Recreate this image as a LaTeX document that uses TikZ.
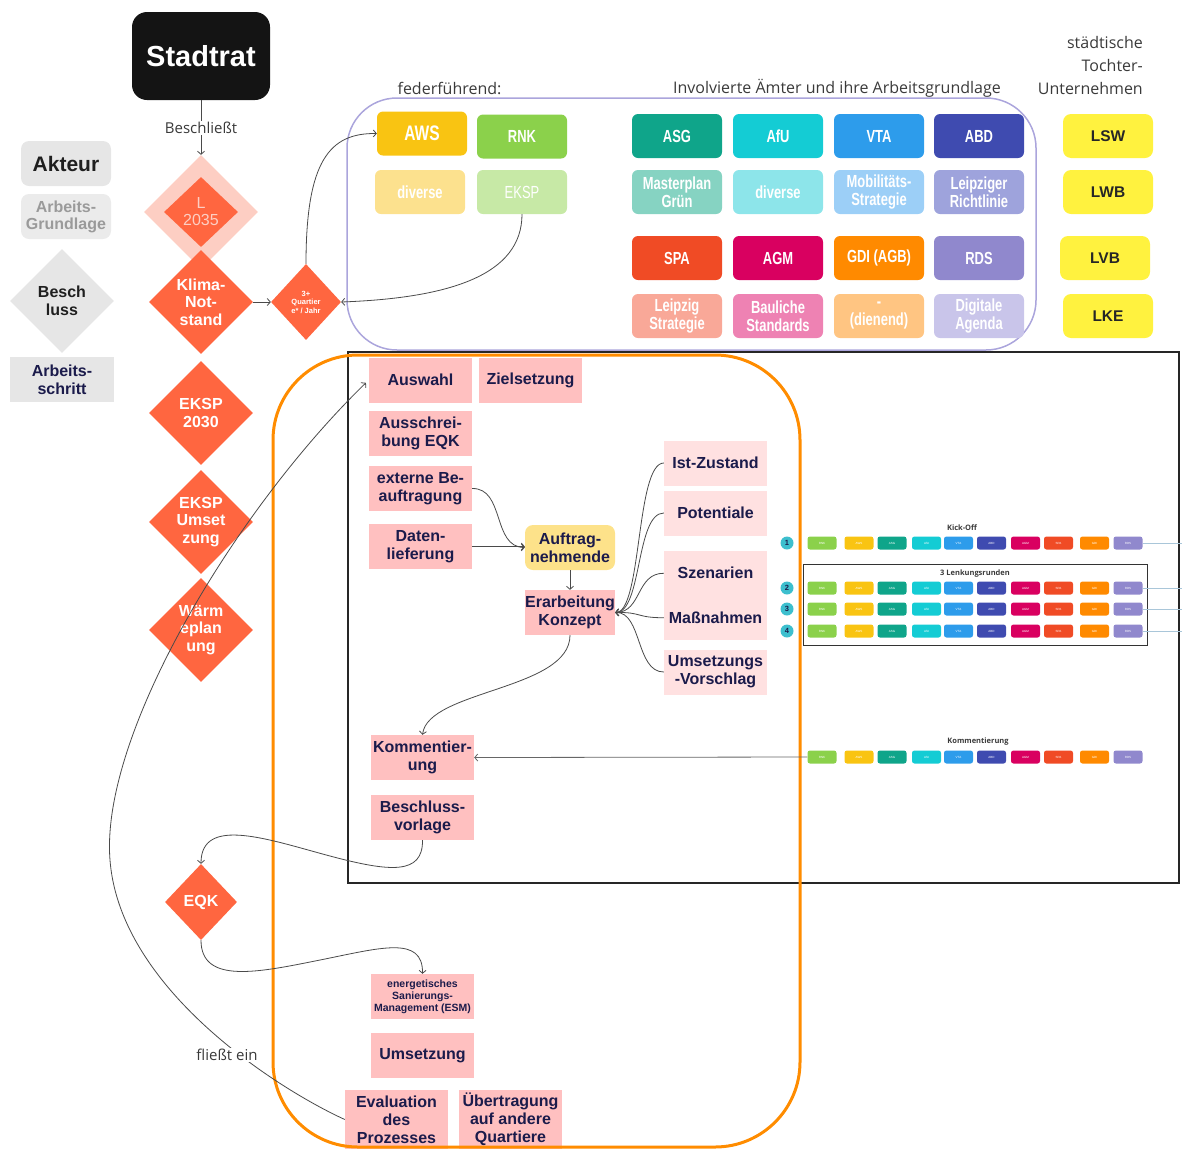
\documentclass[tikz,border=0pt]{standalone}
\usepackage{fontspec}
\setmainfont{Liberation Sans}
\newfontfamily\uifont{Open Sans}
\newfontfamily\narrowfont[FakeStretch=0.74]{Liberation Sans}
\usetikzlibrary{shapes.geometric,arrows.meta}

\definecolor{navy}{HTML}{1B1B4B}
\definecolor{pinkA}{HTML}{FFC0C0}
\definecolor{pinkB}{HTML}{FFE1E1}
\definecolor{orangeD}{HTML}{FF6640}
\definecolor{pinkD}{HTML}{FDCEC3}
\definecolor{lineC}{HTML}{4A4A4A}
\definecolor{lavC}{HTML}{ABA5DC}
\definecolor{frameO}{HTML}{FF8C00}
\definecolor{tochter}{HTML}{FFF23F}
\definecolor{greyA}{HTML}{E6E6E6}
\definecolor{greyB}{HTML}{EBEBEB}
\definecolor{greyT}{HTML}{9A9A9A}
\definecolor{uitext}{HTML}{3A3A3A}
\definecolor{auftragC}{HTML}{FDE28A}
\definecolor{rowline}{HTML}{A9C6D9}
\definecolor{numC}{HTML}{3DBFCE}
% office colours
\definecolor{cGreen}{HTML}{8BD14B}
\definecolor{cYellow}{HTML}{F9C412}
\definecolor{cTeal}{HTML}{0FA58A}
\definecolor{cCyan}{HTML}{14CCD4}
\definecolor{cBlue}{HTML}{2D9CEB}
\definecolor{cIndigo}{HTML}{3F4BB0}
\definecolor{cMagenta}{HTML}{D90060}
\definecolor{cRed}{HTML}{F04B25}
\definecolor{cOrange}{HTML}{FF8A00}
\definecolor{cLav}{HTML}{9088CD}
% lighter tones for the working bases
\definecolor{lYellow}{HTML}{FCE18E}
\definecolor{lGreen}{HTML}{C7E9A6}
\definecolor{lTeal}{HTML}{86D3C2}
\definecolor{lCyan}{HTML}{8DE5EA}
\definecolor{lBlue}{HTML}{9CCFF7}
\definecolor{lIndigo}{HTML}{9EA3DC}
\definecolor{lRed}{HTML}{F9A898}
\definecolor{lMagenta}{HTML}{EE82B3}
\definecolor{lOrange}{HTML}{FFC582}
\definecolor{lLav}{HTML}{C9C5EA}

\tikzset{
  conn/.style={draw=lineC, line width=0.8pt},
  arr/.style={-{Straight Barb[length=3pt,width=7pt]}},
  pinkbox/.style={rectangle, fill=pinkA, text=navy, inner sep=0pt,
    minimum width=103pt, minimum height=45pt, align=center,
    font=\bfseries\fontsize{16}{18}\selectfont},
  lightbox/.style={pinkbox, fill=pinkB},
  amtbox/.style={rectangle, rounded corners=6pt, inner sep=0pt,
    minimum width=90pt, minimum height=44pt, text=white, align=center,
    font=\narrowfont\bfseries\fontsize{17.5}{18}\selectfont},
  tbox/.style={rectangle, rounded corners=8pt, fill=tochter, inner sep=0pt,
    minimum width=90pt, minimum height=44pt, text=black!85,
    font=\bfseries\fontsize{15.5}{17}\selectfont},
  dia/.style={diamond, fill=orangeD, inner sep=0pt, minimum width=104pt,
    minimum height=104pt, text=white, align=center,
    font=\bfseries\fontsize{16}{17.5}\selectfont},
  minibox/.style={rectangle, rounded corners=2.5pt, inner sep=0pt,
    minimum width=29pt, minimum height=13pt, text=white,
    font=\fontsize{3}{3}\selectfont},
  numc/.style={circle, fill=numC, inner sep=0pt, minimum size=13pt,
    text=navy, font=\bfseries\fontsize{7.5}{7.5}\selectfont},
  uilabel/.style={text=uitext, inner sep=1pt, font=\uifont\fontsize{16}{23}\selectfont},
  tinylabel/.style={text=uitext, inner sep=0pt, font=\uifont\bfseries\fontsize{7.5}{8}\selectfont},
}

\begin{document}
\begin{tikzpicture}[x=1pt, y=-1pt]
\useasboundingbox (0,0) rectangle (1182,1149);

% frames
\draw[draw=lavC, line width=1.5pt, rounded corners=50pt] (347,98) rectangle (1036,350);
\draw[draw=black!85, line width=2pt] (348,352) rectangle (1179,883);

% legend
\node[rectangle, rounded corners=8pt, fill=greyA, minimum width=90pt, minimum height=45pt,
  inner sep=0pt, text=black!88, font=\bfseries\fontsize{21}{22}\selectfont] (akteur) at (66,163.5) {Akteur};
\node[rectangle, rounded corners=8pt, fill=greyB, minimum width=90pt, minimum height=45pt,
  inner sep=0pt, text=greyT, align=center, font=\bfseries\fontsize{16}{17}\selectfont] (grundl) at (66,216.5) {Arbeits-\\Grundlage};
\node[dia, fill=greyA, text=black!88] (leg-dia) at (62,301) {Besch\\luss};
\node[rectangle, fill=greyA, minimum width=104pt, minimum height=45pt, inner sep=0pt,
  text=navy, align=center, font=\bfseries\fontsize{16}{18}\selectfont] (schritt) at (62,379.5) {Arbeits-\\schritt};

% city council and decisions
\node[rectangle, rounded corners=15pt, fill=black!92, minimum width=138pt, minimum height=88pt,
  text=white, font=\bfseries\fontsize{29}{30}\selectfont] (stadtrat) at (201,56) {Stadtrat};
\node[diamond, fill=pinkD, inner sep=0pt, minimum width=114pt, minimum height=114pt] (l2035) at (201,212) {};
\node[diamond, fill=orangeD, inner sep=0pt, minimum width=74pt, minimum height=70pt,
  text=pinkD, align=center, font=\fontsize{16}{17}\selectfont] (l2035i) at (201,212) {L\\2035};
\node[dia] (klima) at (201,302) {Klima-\\Not-\\stand};
\node[dia] (eksp30) at (201,413) {EKSP\\2030};
\node[dia] (ekspu) at (201,522) {EKSP\\Umset\\zung};
\node[dia] (waerme) at (201,630) {Wärm\\eplan\\ung};
\node[dia, minimum width=72pt, minimum height=76pt] (eqk) at (201,902) {EQK};
\node[dia, minimum width=70pt, minimum height=76pt,
  font=\bfseries\fontsize{7.5}{8.5}\selectfont] (q3) at (306,302) {3+\\Quartier\\e* / Jahr};

% headings
\node[uilabel] (hfeder) at (449.5,88) {federführend:};
\node[uilabel] (haemter) at (837,88) {Involvierte Ämter und ihre Arbeitsgrundlage};
\node[uilabel, align=right, anchor=east] (htochter) at (1144,65) {städtische\\Tochter-\\Unternehmen};

% lead offices
\node[amtbox, fill=cYellow, font=\narrowfont\bfseries\fontsize{21}{22}\selectfont] (aws) at (422,133.5) {AWS};
\node[amtbox, fill=cGreen] (rnk) at (522,136.5) {RNK};
\node[amtbox, fill=lYellow] (div1) at (420,192) {diverse};
\node[amtbox, fill=lGreen, font=\narrowfont\fontsize{17.5}{18}\selectfont] (eksp) at (522,192) {EKSP};

% involved offices
\node[amtbox, fill=cTeal] (asg) at (677,136) {ASG};
\node[amtbox, fill=cCyan] (afu) at (778,136) {AfU};
\node[amtbox, fill=cBlue] (vta) at (879,136) {VTA};
\node[amtbox, fill=cIndigo] (abd) at (979,136) {ABD};
\node[amtbox, fill=lTeal] (mpg) at (677,192) {Masterplan\\Grün};
\node[amtbox, fill=lCyan] (div2) at (778,192) {diverse};
\node[amtbox, fill=lBlue] (mob) at (879,192) {Mobilitäts-\\Strategie};
\node[amtbox, fill=lIndigo] (lrl) at (979,192) {Leipziger\\Richtlinie};
\node[amtbox, fill=cRed] (spa) at (677,258) {SPA};
\node[amtbox, fill=cMagenta] (agm) at (778,258) {AGM};
\node[amtbox, fill=cOrange] (gdi) at (879,258) {GDI (AGB)};
\node[amtbox, fill=cLav] (rds) at (979,258) {RDS};
\node[amtbox, fill=lRed] (lst) at (677,316) {Leipzig\\Strategie};
\node[amtbox, fill=lMagenta] (bst) at (778,316) {Bauliche\\Standards};
\node[amtbox, fill=lOrange] (dien) at (879,316) {-\\(dienend)};
\node[amtbox, fill=lLav] (dag) at (979,316) {Digitale\\Agenda};

% municipal companies
\node[tbox] (lsw) at (1108,136) {LSW};
\node[tbox] (lwb) at (1108,192) {LWB};
\node[tbox] (lvb) at (1105,258) {LVB};
\node[tbox] (lke) at (1108,316) {LKE};

% working steps
\node[pinkbox] (auswahl) at (420.5,380) {Auswahl};
\node[pinkbox] (ziel) at (530.5,380) {Zielsetzung};
\node[pinkbox] (ausschr) at (420.5,433.5) {Ausschrei-\\bung EQK};
\node[pinkbox] (extern) at (420.5,488.5) {externe Be-\\auftragung};
\node[pinkbox] (daten) at (420.5,546.5) {Daten-\\lieferung};
\node[pinkbox, fill=auftragC, rounded corners=8pt, minimum width=90pt] (auftrag) at (570,547.5) {Auftrag-\\nehmende};
\node[pinkbox, minimum width=90pt] (erarb) at (570,612.5) {Erarbeitung\\Konzept};
\node[lightbox] (ist) at (715.5,463) {Ist-Zustand};
\node[lightbox] (pot) at (715.5,513) {Potentiale};
\node[lightbox] (szen) at (715.5,573.25) {Szenarien};
\node[lightbox] (mass) at (715.5,617.75) {Maßnahmen};
\node[lightbox] (umsv) at (715.5,672) {Umsetzungs\\-Vorschlag};
\node[pinkbox] (komm) at (422.5,757.5) {Kommentier-\\ung};
\node[pinkbox] (beschl) at (422.5,817.5) {Beschluss-\\vorlage};
\node[pinkbox, font=\bfseries\fontsize{10.5}{12}\selectfont] (esm) at (422.5,996.5) {energetisches\\Sanierungs-\\Management (ESM)};
\node[pinkbox] (ums) at (422.5,1055.5) {Umsetzung};
\node[pinkbox, minimum height=59pt] (eval) at (396.5,1119.5) {Evaluation\\des\\Prozesses};
\node[pinkbox, minimum height=59pt] (uebert) at (510.5,1119.5) {Übertragung\\auf andere\\Quartiere};

% project area
\draw[draw=frameO, line width=3pt, rounded corners=85pt] (273,355) rectangle (800,1147);

% steering rounds
\draw[draw=black!80, line width=1pt] (803,564) rectangle (1147,645);
\node[tinylabel] (kickoff) at (962,528) {Kick-Off};
\node[tinylabel] (lenk) at (975,573.5) {3 Lenkungsrunden};
\node[tinylabel] (kommlab) at (978,742) {Kommentierung};
\foreach \r/\yy in {1/543,2/588,3/609,4/631,5/757}{
  \foreach \xx/\cc/\tt [count=\i] in {822/cGreen/RNK, 859/cYellow/AWS, 892/cTeal/ASG,
      926.5/cCyan/AfU, 958.5/cBlue/VTA, 991.5/cIndigo/ABD, 1025.5/cMagenta/AGM,
      1058.5/cRed/SPA, 1094.5/cOrange/GDI, 1128/cLav/RDS}{
    \node[minibox, fill=\cc] (b\r-\i) at (\xx,\yy) {\tt};
  }
}
\foreach \r/\yy in {1/543,2/588,3/609,4/631}{
  \coordinate (e\r) at (1182,\yy);
  \draw[draw=rowline, line width=0.8pt] (b\r-10.east) -- (e\r);
}
\node[numc] (n1) at (787,543) {1};
\node[numc] (n2) at (787,588) {2};
\node[numc] (n3) at (787,609) {3};
\node[numc] (n4) at (787,631) {4};

% connectors
\draw[conn, arr] (stadtrat.south) -- (l2035.north);
\node[uilabel, fill=white, font=\uifont\fontsize{15}{16}\selectfont] (beschlab) at (201,128) {Beschließt};
\draw[conn, arr] (klima.east) -- (q3.west);
\draw[conn, arr] (eksp.south) .. controls (522,275) and (450,298) .. (q3.east);
\draw[conn, arr] (q3.north) .. controls (306,160) and (330,133) .. (aws.west);

\draw[conn, arr] (extern.east) .. controls (505,488) and (492,547) .. (auftrag.west);
\draw[conn, arr] (daten.east) -- (auftrag.west |- daten.east);
\draw[conn, arr] (auftrag.south) -- (erarb.north);
\foreach \n in {ist,pot,szen,mass,umsv}
  \draw[conn, arr] (\n.west) .. controls +(-28,0) and (642,612) .. (erarb.east);
\draw[conn, arr] (erarb.south) .. controls (570,690) and (428,690) .. (komm.north);
\draw[draw=black!60, line width=0.8pt, arr] (b5-1.west) -- (komm.east);

\draw[conn, arr] (beschl.south) .. controls (423,875) and (390,872) .. (330,856)
  .. controls (270,840) and (201,815) .. (eqk.north);
\draw[conn, arr] (eqk.south) .. controls (201,985) and (260,972) .. (320,960)
  .. controls (380,948) and (423,935) .. (esm.north);
\draw[conn, arr, shorten >=4pt] (eval.west) .. controls (280,1090) and (120,990) .. (110,860)
  .. controls (100,735) and (235,510) .. (auswahl.west);
\node[uilabel, fill=white, font=\uifont\fontsize{15}{16}\selectfont] (fliesst) at (227,1055) {fließt ein};
\end{tikzpicture}
\end{document}
